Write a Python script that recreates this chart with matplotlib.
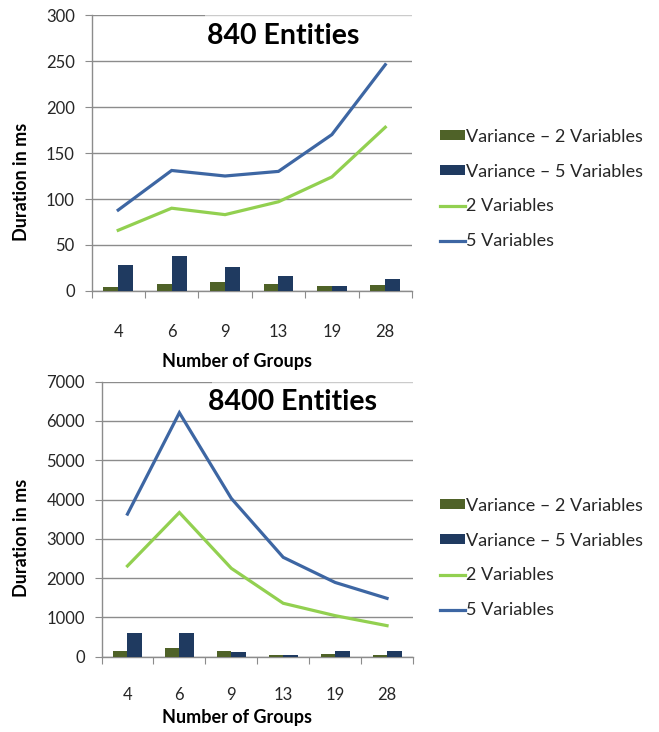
import matplotlib
matplotlib.use("Agg")
import matplotlib.pyplot as plt
import numpy as np
from matplotlib.patches import Rectangle

plt.rcParams['font.family'] = ['Lato', 'DejaVu Sans']

groups = ["4", "6", "9", "13", "19", "28"]

# 840 entities
var2_840 = [4, 8, 10, 8, 5, 7]
var5_840 = [28, 38, 26, 16, 5, 13]
two_840 = [66, 90, 83, 97, 124, 178]
five_840 = [88, 131, 125, 130, 170, 246]

# 8400 entities
var2_8400 = [144, 212, 144, 42, 76, 42]
var5_8400 = [594, 594, 110, 42, 144, 144]
two_8400 = [2310, 3670, 2250, 1360, 1045, 790]
five_8400 = [3630, 6210, 4030, 2530, 1890, 1485]

C_VAR2 = "#4f6228"
C_VAR5 = "#1f3a60"
C_TWO = "#92d050"
C_FIVE = "#3d66a3"
GRID = "#8c8c8c"
TXT = "#262626"

W, H = 659, 732
fig = plt.figure(figsize=(W / 100, H / 100), dpi=100)


def px_axes(left, top, right, bottom):
    return fig.add_axes([left / W, 1 - bottom / H, (right - left) / W, (bottom - top) / H])


def draw_panel(ax, var2, var5, two, five, ymax, ystep, title, title_xy, leg_y, xlab_y, ylab_xy, xpad):
    x = np.arange(len(groups))
    bw = 0.28
    b2 = ax.bar(x - bw / 2, var2, width=bw, color=C_VAR2, zorder=3)
    b5 = ax.bar(x + bw / 2, var5, width=bw, color=C_VAR5, zorder=3)
    l2, = ax.plot(x, two, color=C_TWO, lw=2.3, zorder=4, solid_joinstyle="miter")
    l5, = ax.plot(x, five, color=C_FIVE, lw=2.3, zorder=4, solid_joinstyle="miter")

    ax.set_xlim(-0.5, len(groups) - 0.5)
    ax.set_ylim(0, ymax)
    ax.set_yticks(np.arange(0, ymax + 1, ystep))
    ax.yaxis.grid(True, color=GRID, lw=1.0, zorder=0)
    ax.set_axisbelow(True)
    for s in ["top", "right"]:
        ax.spines[s].set_visible(False)
    for s in ["left", "bottom"]:
        ax.spines[s].set_color(GRID)
        ax.spines[s].set_linewidth(1.0)

    ax.set_xticks(np.arange(-0.5, len(groups)), minor=False)
    ax.set_xticklabels([])
    ax.tick_params(axis="x", which="major", length=5, color=GRID, direction="out")
    ax.set_xticks(x, minor=True)
    ax.set_xticklabels(groups, minor=True, fontsize=12, color=TXT)
    ax.tick_params(axis="x", which="minor", length=0, pad=xpad)
    ax.tick_params(axis="y", length=5, color=GRID, labelsize=12, labelcolor=TXT, pad=7)

    # lighter band over the top gridline behind the title
    ax.add_patch(Rectangle((0.355, 0.985), 0.66, 0.03, transform=ax.transAxes,
                           facecolor="white", alpha=0.55, edgecolor="none",
                           zorder=1.5, clip_on=False))

    fig.text(title_xy[0] / W, 1 - title_xy[1] / H, title, fontsize=20.5, fontweight="bold",
             color="black", ha="center", va="center")
    fig.text(237 / W, 1 - xlab_y / H, "Number of Groups", fontsize=13,
             fontweight="bold", color="black", ha="center", va="center")
    fig.text(ylab_xy[0] / W, 1 - ylab_xy[1] / H, "Duration in ms", fontsize=13,
             fontweight="bold", color="black", ha="center", va="center", rotation=90)

    fig.legend(handles=[b2, b5, l2, l5],
               labels=["Variance \u2013 2 Variables", "Variance \u2013 5 Variables",
                       "2 Variables", "5 Variables"],
               loc="center left", bbox_to_anchor=(440 / W, 1 - leg_y / H),
               frameon=False, fontsize=13, borderpad=0, borderaxespad=0,
               handlelength=1.4, handleheight=0.45, handletextpad=0.05,
               labelspacing=1.05, labelcolor=TXT)


ax1 = px_axes(91.5, 15, 412, 291)
draw_panel(ax1, var2_840, var5_840, two_840, five_840, 300, 50,
           "840 Entities", (283.5, 36), 189, 362, (22, 182), 24)

ax2 = px_axes(101.5, 381.7, 413, 656.7)
draw_panel(ax2, var2_8400, var5_8400, two_8400, five_8400, 7000, 1000,
           "8400 Entities", (293, 402), 558, 718, (22, 538), 22)

fig.savefig("out.png", dpi=100, facecolor="white")
